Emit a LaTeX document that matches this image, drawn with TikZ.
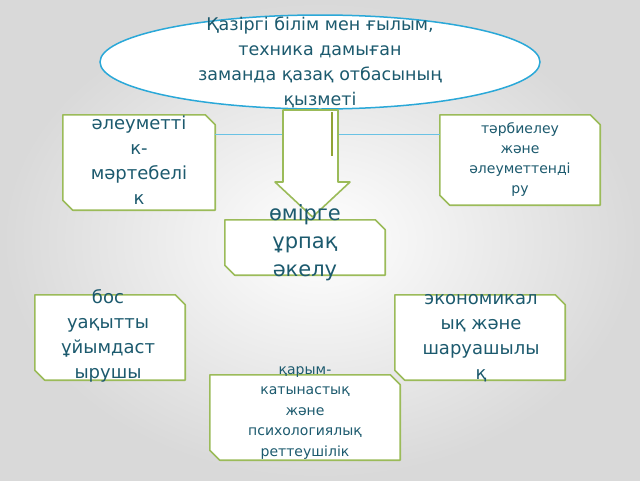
\documentclass[tikz,border=0pt]{standalone}
\usepackage{fontspec}
\setmainfont{DejaVu Sans}
\usetikzlibrary{shapes.geometric}
\definecolor{tx}{HTML}{1C5A6E}
\definecolor{gr}{HTML}{9BBB59}
\definecolor{bl}{HTML}{2AA8D8}
\newcommand\snp[1]{\draw[sn] (#1.north west) -- ([xshift=-10pt]#1.north east) -- ([yshift=-10pt]#1.north east) -- (#1.south east) -- ([xshift=10pt]#1.south west) -- ([yshift=10pt]#1.south west) -- cycle;}
\begin{document}
\begin{tikzpicture}[x=1pt,y=-1pt,
  box/.style={rectangle, inner sep=0pt},
  sn/.style={draw=gr, line width=1.6pt, fill=white, line join=round},
  lbl/.style={text=tx, align=center}]
\useasboundingbox (0,0) rectangle (640,480);
\fill[inner color=white, outer color=gray!30] (0,0) rectangle (640,480);
\node[ellipse, draw=bl, line width=1.5pt, fill=white, minimum width=440, minimum height=94, inner sep=0pt] (ell) at (320,62) {};
\node[lbl, font=\fontsize{17.5}{25}\selectfont] (ellt) at (320,62) {Қазіргі білім мен ғылым,\\техника дамыған\\заманда қазақ отбасының\\қызметі};
\coordinate (sl) at (283,134); \coordinate (sr) at (338,134);
\node[box, minimum width=152, minimum height=95] (a) at (139,162.5) {};
\node[box, minimum width=160, minimum height=90] (b) at (520,160) {};
\node[box, minimum width=160, minimum height=55] (c) at (305,247.5) {};
\node[box, minimum width=150, minimum height=85] (d) at (110,337.5) {};
\node[box, minimum width=170, minimum height=85] (e) at (480,337.5) {};
\node[box, minimum width=190, minimum height=85] (f) at (305,417.5) {};
\snp{a}\snp{b}
\draw[bl!70, line width=0.6pt] (a.east |- sl) -- (sl);
\draw[bl!70, line width=0.6pt] (sr) -- (b.west |- sr);
\draw[sn] (283,110) -- (338,110) -- (338,182) -- (350,182) -- (312.5,217) -- (275,182) -- (283,182) -- cycle;
\draw[gr!60!olive, line width=2pt] (332,112) -- (332,156);
\snp{c}\snp{d}\snp{e}\snp{f}
\node[lbl, font=\fontsize{18}{25}\selectfont] at (139,160) {әлеуметті\\к-\\мәртебелі\\к};
\node[lbl, font=\fontsize{14}{20}\selectfont] at (b) {тәрбиелеу\\және\\әлеуметтенді\\ру};
\node[lbl, font=\fontsize{21}{28}\selectfont] at (305,243) {өмірге\\ұрпақ\\әкелу};
\node[lbl, font=\fontsize{18}{25}\selectfont] at (108,336) {бос\\уақытты\\ұйымдаст\\ырушы};
\node[lbl, font=\fontsize{18}{25}\selectfont] at (481,338) {экономикал\\ық және\\шаруашылы\\қ};
\node[lbl, font=\fontsize{14}{20.5}\selectfont] at (305,413) {қарым-\\катынастық\\және\\психологиялық\\реттеушілік};
\end{tikzpicture}
\end{document}
